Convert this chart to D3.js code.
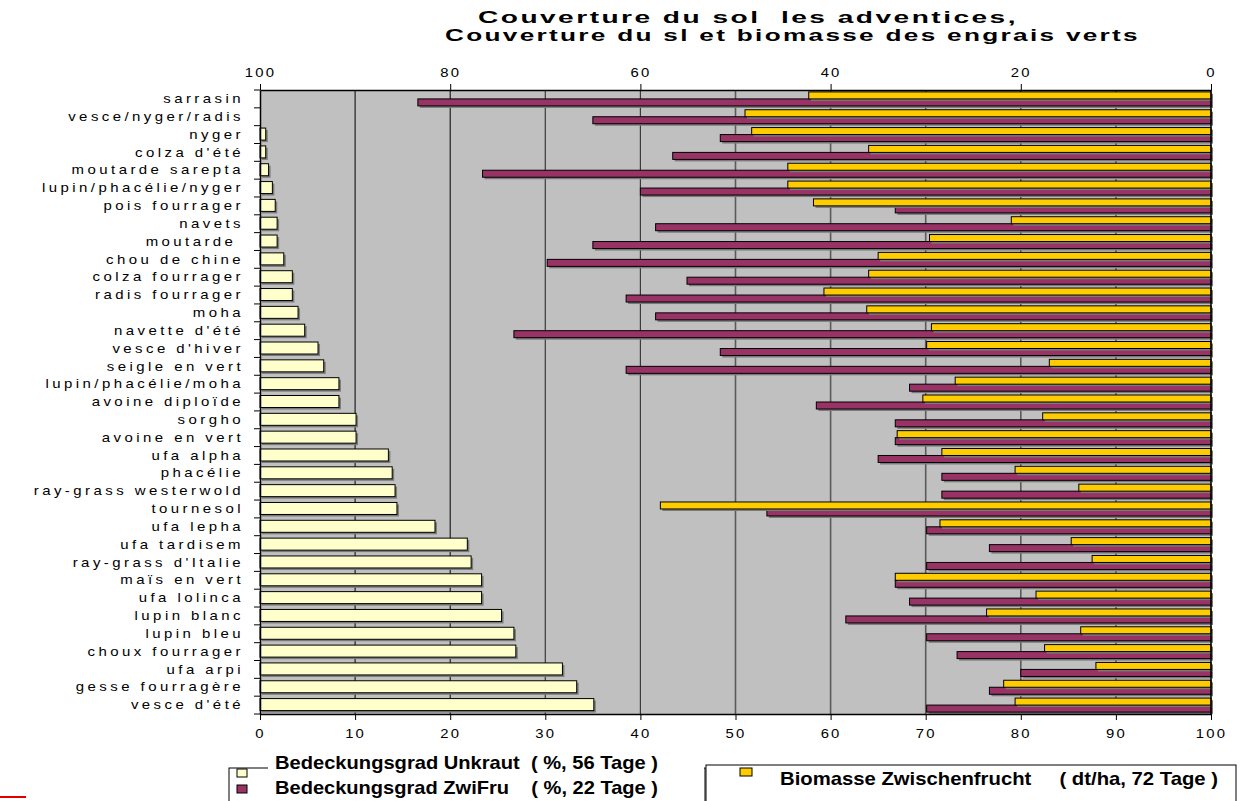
<!DOCTYPE html>
<html><head><meta charset="utf-8">
<script src="https://cdn.jsdelivr.net/npm/d3@7"></script>
<style>
body{margin:0;background:#fff;}
svg text{font-family:"Liberation Sans",Arial,sans-serif;}
</style></head>
<body><svg id="c" width="1243" height="801"></svg>
<script>
const categories = ["sarrasin","vesce/nyger/radis","nyger","colza d'été","moutarde sarepta","lupin/phacélie/nyger","pois fourrager","navets","moutarde ","chou de chine","colza fourrager","radis fourrager","moha","navette d'été","vesce d'hiver","seigle en vert","lupin/phacélie/moha","avoine diploïde","sorgho","avoine en vert","ufa alpha","phacélie","ray-grass westerwold","tournesol","ufa lepha","ufa tardisem","ray-grass d'Italie","maïs en vert","ufa lolinca","lupin blanc","lupin bleu","choux fourrager","ufa arpi","gesse fourragère","vesce d'été"];
const unkraut = [0,0,0.6,0.6,0.9,1.3,1.6,1.8,1.8,2.5,3.4,3.4,4.0,4.7,6.1,6.7,8.3,8.3,10.1,10.1,13.5,13.9,14.2,14.4,18.4,21.8,22.2,23.3,23.3,25.4,26.7,26.9,31.8,33.3,35.1];
const zwifru = [83.4,65.0,51.6,56.6,76.6,60.0,33.2,58.4,65.0,69.8,55.1,61.5,58.4,73.3,51.6,61.5,31.7,41.5,33.2,33.2,35.0,28.3,28.3,46.7,29.9,23.3,29.9,33.2,31.7,38.4,29.9,26.7,20.0,23.3,29.9];
const biomasse = [42.3,49.0,48.3,36.0,44.5,44.5,41.8,21.0,29.6,35.0,36.0,40.7,36.2,29.4,29.9,17.0,26.9,30.3,17.7,33.0,28.3,20.6,13.9,57.9,28.5,14.7,12.5,33.2,18.4,23.6,13.7,17.5,12.1,21.8,20.6];
const bottomTicks = [0,10,20,30,40,50,60,70,80,90,100];
const topTicks = [100,80,60,40,20,0];
const titleLines = ["Couverture du sol  les adventices,","Couverture du sl et biomasse des engrais verts"];
const legendLeft = ["Bedeckungsgrad Unkraut  ( %, 56 Tage )","Bedeckungsgrad ZwiFru    ( %, 22 Tage )"];
const legendRight = "Biomasse Zwischenfrucht     ( dt/ha, 72 Tage )";

const col = {unk:"#FFFFCC", zwi:"#993366", bio:"#FFCC00", bg:"#C0C0C0", shadow:"#7a7a7a"};
const L=260, R=1211, T=90, B=714;
const svg = d3.select("#c");
const y = d3.scaleBand().domain(categories).range([T,B]).padding(0);
const xb = d3.scaleLinear().domain([0,100]).range([L,R]);
const xt = d3.scaleLinear().domain([100,0]).range([L,R]);

function stretch(sel, k){
  sel.each(function(){
    const w = this.getComputedTextLength();
    d3.select(this).attr("textLength", w*k).attr("lengthAdjust","spacingAndGlyphs");
  });
}

svg.append("rect").attr("x",L).attr("y",T).attr("width",R-L).attr("height",B-T).attr("fill",col.bg);

const gridStyle = v => v<=20 ? ["#000",1] : (v<=40 ? ["#3a3a3a",1.2] : ["#5a5a5a",1.6]);
svg.append("g").selectAll("line").data(bottomTicks.filter(v=>v>0&&v<100)).join("line")
  .attr("x1",d=>xb(d)).attr("x2",d=>xb(d)).attr("y1",T).attr("y2",B)
  .attr("stroke",d=>gridStyle(d)[0]).attr("stroke-width",d=>gridStyle(d)[1]);

function bars(data, x0fn, x1fn, yoff, h, fill){
  const g = svg.append("g");
  const rows = data.map((v,i)=>({v, c:categories[i]})).filter(d=>d.v>0);
  g.selectAll("rect.s").data(rows).join("rect").attr("class","s")
    .attr("x",d=>Math.min(x0fn(d.v),x1fn(d.v))+2).attr("y",d=>y(d.c)+y.bandwidth()/2+yoff+2)
    .attr("width",d=>Math.abs(x1fn(d.v)-x0fn(d.v))).attr("height",h).attr("fill",col.shadow);
  g.selectAll("rect.b").data(rows).join("rect").attr("class","b")
    .attr("x",d=>Math.min(x0fn(d.v),x1fn(d.v))).attr("y",d=>y(d.c)+y.bandwidth()/2+yoff)
    .attr("width",d=>Math.abs(x1fn(d.v)-x0fn(d.v))).attr("height",h)
    .attr("fill",fill).attr("stroke","#000").attr("stroke-width",1);
}
bars(unkraut, v=>xb(0), v=>xb(v), -6.5, 12, col.unk);
bars(zwifru, v=>xt(v), v=>xt(0), 0, 7, col.zwi);
bars(biomasse, v=>xt(v), v=>xt(0), -7, 7, col.bio);

const tickFont = g => { g.selectAll("text").attr("font-size",13.5).attr("letter-spacing","2px").attr("fill","#000"); stretch(g.selectAll("text"),1.1); };
const gb = svg.append("g").attr("transform",`translate(0,${B})`)
  .call(d3.axisBottom(xb).tickValues(bottomTicks).tickSize(6).tickPadding(8).tickSizeOuter(0));
gb.select(".domain").attr("stroke","#000").attr("stroke-width",1.5);
gb.selectAll("line").attr("stroke","#000");
tickFont(gb);
const gt = svg.append("g").attr("transform",`translate(0,${T})`)
  .call(d3.axisTop(xt).tickValues(topTicks).tickSize(6).tickPadding(7).tickSizeOuter(0));
gt.select(".domain").attr("stroke","#000").attr("stroke-width",1.5);
gt.selectAll("line").attr("stroke","#000");
tickFont(gt);

const gl = svg.append("g").attr("transform",`translate(${L},0)`)
  .call(d3.axisLeft(y).tickSize(0).tickPadding(16));
gl.select(".domain").attr("stroke","#000").attr("stroke-width",1.5);
gl.selectAll("text").attr("font-size",13).attr("letter-spacing","3px").attr("fill","#000").style("white-space","pre");
stretch(gl.selectAll("text"),1.15);
svg.append("g").selectAll("line").data(categories.concat(["_end"])).join("line")
  .attr("x1",L-6).attr("x2",L).attr("y1",(d,i)=>T+i*y.step()).attr("y2",(d,i)=>T+i*y.step())
  .attr("stroke","#000");
svg.append("line").attr("x1",R).attr("x2",R).attr("y1",T).attr("y2",B).attr("stroke","#000").attr("stroke-width",1.5);

// title
const titleX = [478,445], titleW = [540,695];
svg.append("g").selectAll("text").data(titleLines).join("text")
  .attr("x",(d,i)=>titleX[i]).attr("y",(d,i)=>23+i*18)
  .attr("font-size",17).attr("font-weight","bold").attr("letter-spacing","1.5px").style("white-space","pre")
  .attr("textLength",(d,i)=>titleW[i]).attr("lengthAdjust","spacingAndGlyphs").text(d=>d);

// legends
svg.append("rect").attr("x",229).attr("y",768).attr("width",476).attr("height",45).attr("fill","#fff").attr("stroke","#000");
svg.append("rect").attr("x",706).attr("y",765).attr("width",530).attr("height",48).attr("fill","#fff").attr("stroke","#000");
const lg = svg.append("g");
lg.append("rect").attr("x",268).attr("y",752).attr("width",436).attr("height",22).attr("fill","#fff");
[col.unk, col.zwi].forEach((c,i)=>{
  lg.append("rect").attr("x",237).attr("y",i?785:769).attr("width",10).attr("height",8).attr("fill",c).attr("stroke","#000");
});
lg.selectAll("text.ll").data(legendLeft).join("text").attr("class","ll")
  .attr("x",275).attr("y",(d,i)=>i?794:769).attr("font-size",19).attr("font-weight","bold")
  .attr("textLength",383).attr("lengthAdjust","spacingAndGlyphs")
  .style("white-space","pre").text(d=>d);
lg.append("rect").attr("x",740).attr("y",768).attr("width",12).attr("height",8).attr("fill",col.bio).attr("stroke","#000");
lg.append("text").attr("x",780).attr("y",785).attr("font-size",19).attr("font-weight","bold")
  .attr("textLength",438).attr("lengthAdjust","spacingAndGlyphs")
  .style("white-space","pre").text(legendRight);
svg.append("line").attr("x1",0).attr("x2",26).attr("y1",797).attr("y2",797).attr("stroke","#e00000").attr("stroke-width",2);
</script></body></html>
